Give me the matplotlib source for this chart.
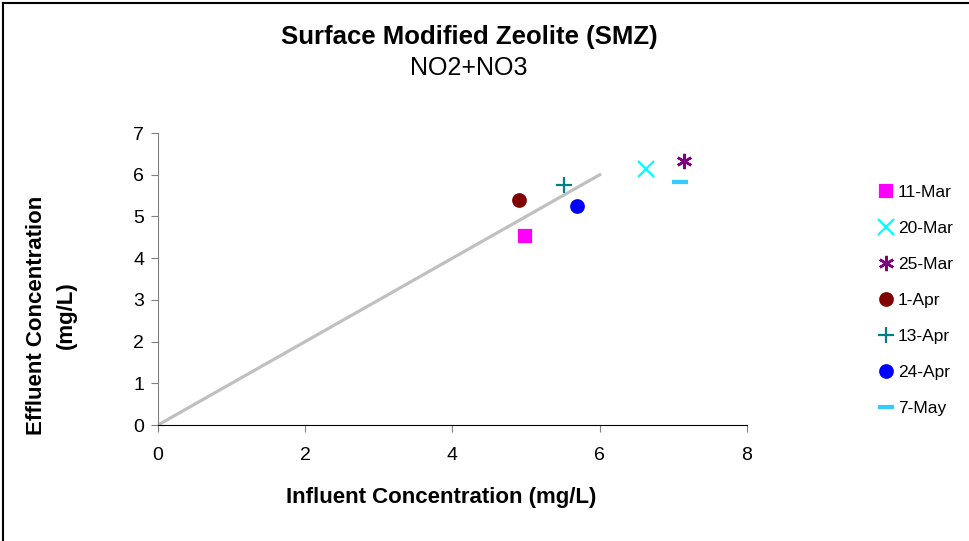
import matplotlib
matplotlib.use("Agg")
import matplotlib.pyplot as plt
from matplotlib.lines import Line2D

plt.rcParams['font.family'] = ['Liberation Sans', 'DejaVu Sans']

labels = ["11-Mar", "20-Mar", "25-Mar", "1-Apr", "13-Apr", "24-Apr", "7-May"]
influent = [4.99, 6.63, 7.15, 4.90, 5.52, 5.69, 7.09]
effluent = [4.53, 6.14, 6.33, 5.40, 5.76, 5.25, 5.83]
colors = ["#FF00FF", "#00FFFF", "#800080", "#800000", "#008080", "#0000FF", "#33CCFF"]
markers = ["s", "x", (6, 2, 0), "o", "+", "o", "_"]
sizes = [9, 11, 11, 9, 12, 9, 11]
edge_widths = [1.6, 1.6, 1.8, 1.6, 1.6, 1.6, 3.0]
line_x = [0, 6]
line_y = [0, 6]

fig = plt.figure(figsize=(9.7, 5.41), dpi=100)
ax = fig.add_axes([158/970, 1-425/541, (747-158)/970, (425-133)/541])

ax.plot(line_x, line_y, color="#C0C0C0", lw=2.3, zorder=1)
handles = []
for xi, yi, c, m, s, ew, lab in zip(influent, effluent, colors, markers, sizes, edge_widths, labels):
    h, = ax.plot([xi], [yi], linestyle="none", marker=m, color=c, markersize=s,
                 markeredgewidth=ew, label=lab, zorder=3)
    handles.append(h)

ax.set_xlim(0, 8)
ax.set_ylim(0, 7)
ax.set_xticks([0, 2, 4, 6, 8])
ax.set_yticks(range(0, 8))
ax.spines['top'].set_visible(False)
ax.spines['right'].set_visible(False)
ax.spines['left'].set_color("#808080")
ax.spines['bottom'].set_color("black")
ax.tick_params(axis='both', direction='out', length=5, color="#808080", labelsize=14, pad=5)
ax.tick_params(axis='x', pad=11)

cx = 469 / 970
fig.text(cx, 1 - 37/541, "Surface Modified Zeolite (SMZ)",
         ha='center', va='center', fontsize=18.5, fontweight='bold')
fig.text(cx, 1 - 68/541, "NO2+NO3", ha='center', va='center', fontsize=18)
fig.text(441 / 970, 1 - 497/541, "Influent Concentration (mg/L)",
         ha='center', va='center', fontsize=16, fontweight='bold')
fig.text(51/970, 1 - 315/541, "Effluent Concentration\n(mg/L)", ha='center', va='center',
         rotation=90, fontsize=16, fontweight='bold', linespacing=1.55)

leg = fig.legend(handles=handles, loc='upper left', bbox_to_anchor=(879/970, 1 - 185/541),
                 frameon=False, fontsize=12.5, labelspacing=1.2, handlelength=0.8,
                 handletextpad=0.3, borderaxespad=0, borderpad=0)

# figure border (top and left visible)
fig.add_artist(Line2D([3/970, 3/970], [0, 1 - 3/541], transform=fig.transFigure, color="black", lw=1.5))
fig.add_artist(Line2D([3/970, 1], [1 - 3/541, 1 - 3/541], transform=fig.transFigure, color="black", lw=1.5))

fig.savefig("out.png", dpi=100)
